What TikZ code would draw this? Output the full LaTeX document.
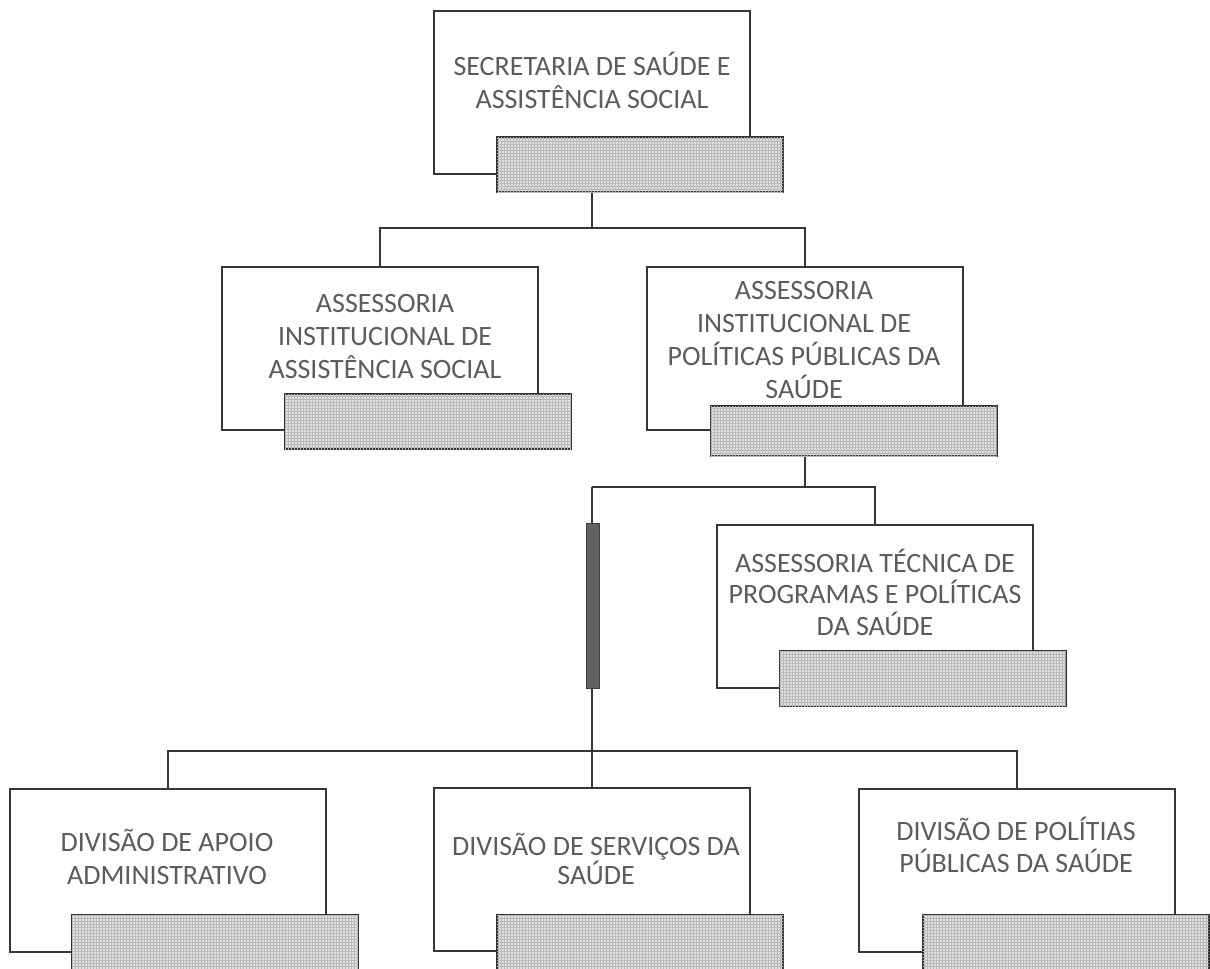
\documentclass[tikz,border=0pt]{standalone}
\usepackage{fontspec}
\setmainfont{Carlito}
\usetikzlibrary{patterns}
\definecolor{txtgray}{RGB}{92,92,92}
\definecolor{linegray}{RGB}{55,55,55}
\tikzset{
  mainbox/.style={draw=linegray, line width=2pt, fill=white, minimum width=316pt, minimum height=163pt, inner sep=0pt},
  subbox/.style={draw=linegray!90!black, line width=2pt, fill=black!12, minimum width=286pt, minimum height=55pt, inner sep=0pt,
     postaction={pattern=grid, pattern color=black!28}},
  conn/.style={draw=linegray, line width=2pt},
  barbox/.style={draw=black!75, fill=black!62, line width=1pt, minimum width=13pt, minimum height=165pt, inner sep=0pt},
  label/.style={align=center, inner sep=0pt, text=txtgray, font=\fontsize{28}{33}\selectfont},
}
\begin{document}
\begin{tikzpicture}[x=1pt,y=-1pt]
\useasboundingbox (0,0) rectangle (1210,969);
\fill[white] (0,0) rectangle (1210,969);
\clip (0,0) rectangle (1210,969);

% main boxes
\node[mainbox] (top) at (592,92) {};
\node[mainbox] (ail) at (380,348.5) {};
\node[mainbox] (aip) at (804.5,348.5) {};
\node[mainbox] (atp) at (875,606) {};
\node[mainbox] (d1) at (167.5,870) {};
\node[mainbox] (d2) at (592,869.5) {};
\node[mainbox] (d3) at (1016.5,870) {};

% junctions
\coordinate (j1) at (592,228);
\coordinate (j2) at (592,487);
\coordinate (j3) at (592,751);

% sub boxes
\node[subbox] (topsub) at (640,164.5) {};
\node[subbox] (ailsub) at (428,421.5) {};
\node[subbox, minimum height=50pt] (aipsub) at (853.5,431) {};
\node[subbox] (atpsub) at (922.5,678.5) {};
\node[subbox, minimum height=62pt] (d1sub) at (215,946) {};
\node[subbox, minimum height=62pt] (d2sub) at (640,946) {};
\node[subbox, minimum height=62pt] (d3sub) at (1065.5,946) {};

% connectors
\draw[conn] (top.center |- topsub.south) -- (j1);
\draw[conn] (ail.north) |- (j1) -| (aip.north);
\draw[conn] (aip.center |- aipsub.south) -- (aip.center |- j2);
\draw[conn] (j2) -| (atp.north);
\draw[conn] (aip.center |- j2) -- (j2);
\draw[conn] (j2) -- (d2.north);
\draw[conn] (d1.north) |- (j3) -| (d3.north);

% bar
\node[barbox] (bar) at (592.5,605.5) {};

% labels
\node[label] (ttop) at (592,80) {SECRETARIA DE SAÚDE E\\ASSISTÊNCIA SOCIAL};
\node[label] (tail) at (385,337) {ASSESSORIA\\INSTITUCIONAL DE\\ASSISTÊNCIA SOCIAL};
\node[label] (taip) at (804,340) {ASSESSORIA\\INSTITUCIONAL DE\\POLÍTICAS PÚBLICAS DA\\SAÚDE};
\node[label, font=\fontsize{28}{31.5}\selectfont] (tatp) at (875,592) {ASSESSORIA TÉCNICA DE\\PROGRAMAS E POLÍTICAS\\DA SAÚDE};
\node[label] (td1) at (167,857) {DIVISÃO DE APOIO\\ADMINISTRATIVO};
\node[label, font=\fontsize{28}{27}\selectfont] (td2) at (596,859) {DIVISÃO DE SERVIÇOS DA\\SAÚDE};
\node[label, font=\fontsize{28}{32}\selectfont] (td3) at (1016,845) {DIVISÃO DE POLÍTIAS\\PÚBLICAS DA SAÚDE};
\end{tikzpicture}
\end{document}
